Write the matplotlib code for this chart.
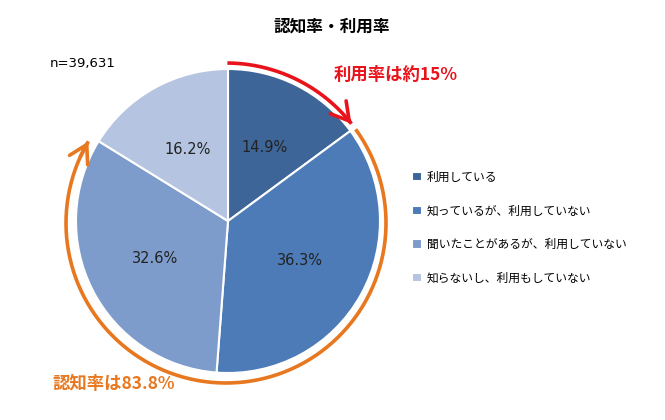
import numpy as np
import matplotlib.pyplot as plt

plt.rcParams['font.family'] = ['Noto Sans CJK JP', 'DejaVu Sans']

# -------- Data --------
TITLE = "認知率・利用率"
N_LABEL = "n=39,631"
CATEGORIES = [
    "利用している",
    "知っているが、利用していない",
    "聞いたことがあるが、利用していない",
    "知らないし、利用もしていない",
]
SHARES = [14.9, 36.3, 32.6, 16.2]
COLORS = ["#3D6598", "#4C7BB8", "#7E9CCB", "#B5C4E0"]
USE_NOTE = "利用率は約15%"
AWARE_NOTE = "認知率は83.8%"

W, H = 665, 420
CX, CY, R = 228, H - 221, 152          # pie centre / radius in pixel units
ACX, ACY, R_ARC = 226, H - 223, 160    # arrow arcs

fig = plt.figure(figsize=(W / 100, H / 100), dpi=100)
ax = fig.add_axes([0, 0, 1, 1])

wedges, _, autotexts = ax.pie(
    SHARES, colors=COLORS, startangle=90, counterclock=False,
    center=(CX, CY), radius=R, autopct="%.1f%%", pctdistance=0.54,
    wedgeprops=dict(edgecolor="white", linewidth=1.5),
    textprops=dict(fontsize=10.5, color="#222222", family="DejaVu Sans"),
)
ax.set_xlim(0, W)
ax.set_ylim(0, H)
ax.set_aspect("equal")
ax.axis("off")


def arc_pts(a0, a1, n=200):
    # angles in degrees clockwise from top
    t = np.radians(np.linspace(a0, a1, n))
    return ACX + R_ARC * np.sin(t), ACY + R_ARC * np.cos(t)


def draw_arc(a0, a1, color):
    x, y = arc_pts(a0, a1)
    ax.plot(x, y, color=color, lw=2.6, solid_capstyle="butt")
    ax.annotate("", xy=(x[-1], y[-1]), xytext=(x[-6], y[-6]),
                arrowprops=dict(arrowstyle="->,head_length=0.6,head_width=0.35",
                                color=color, lw=2.6, mutation_scale=21,
                                shrinkA=0, shrinkB=0))


cum = np.cumsum(SHARES) / 100 * 360
draw_arc(0.5, cum[0] - 2, "#E8131B")
draw_arc(cum[0] + 0.5, cum[2] - 1, "#E8781F")

ax.text(332, H - 27, TITLE, ha="center", va="center", fontsize=12, fontweight="bold")
ax.text(50, H - 63, N_LABEL, ha="left", va="center", fontsize=9.5, family="DejaVu Sans")
ax.text(334, H - 75, USE_NOTE, ha="left", va="center", fontsize=12.5,
        fontweight="bold", color="#E8131B")
ax.text(52, H - 384, AWARE_NOTE, ha="left", va="center", fontsize=12.5,
        fontweight="bold", color="#E8781F")

leg = ax.legend(wedges, CATEGORIES, loc="upper left",
                bbox_to_anchor=(407 / W, 1 - 166 / H), frameon=False,
                fontsize=8.5, labelspacing=1.75, handlelength=0.85,
                handleheight=0.85, handletextpad=0.45, borderaxespad=0)

fig.savefig("out.png", dpi=100)
